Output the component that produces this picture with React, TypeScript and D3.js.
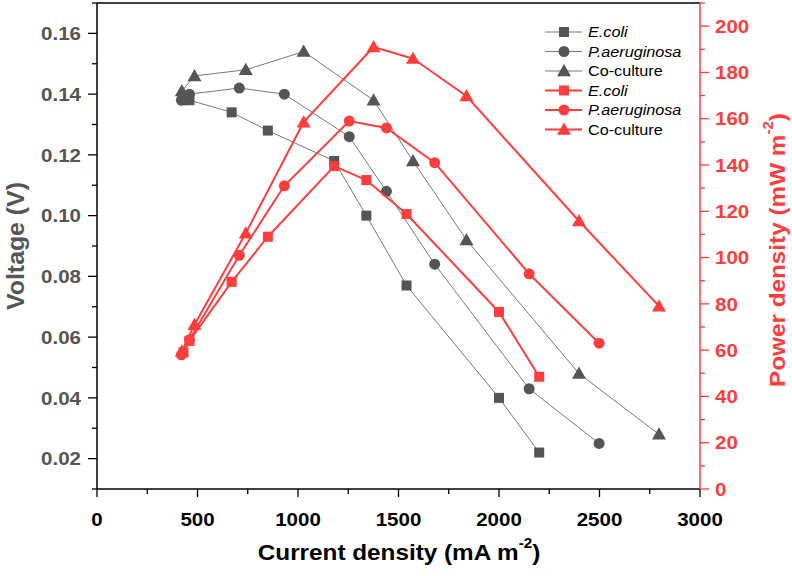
import React from "react";
import * as d3 from "d3";

const ecoliI = [430, 460, 670, 850, 1180, 1340, 1540, 2000, 2200];
const ecoliV = [0.138, 0.138, 0.134, 0.128, 0.118, 0.1, 0.077, 0.04, 0.022];
const ecoliP = [59, 64, 89.5, 109, 139.5, 133.5, 118.8, 76.5, 48.5];

const paerI = [420, 460, 708, 932, 1255, 1440, 1680, 2150, 2498];
const paerV = [0.138, 0.14, 0.142, 0.14, 0.126, 0.108, 0.084, 0.043, 0.025];
const paerP = [58, 64.5, 101, 131, 159, 156, 141, 93, 63];

const coI = [422, 485, 740, 1028, 1376, 1572, 1838, 2398, 2796];
const coV = [0.141, 0.146, 0.148, 0.154, 0.138, 0.118, 0.092, 0.048, 0.028];
const coP = [59.5, 71, 110.5, 158.5, 191, 186, 169.8, 115.8, 79];

const seriesNames = ["E.coli", "P.aeruginosa", "Co-culture"];
const seriesItalic = [true, true, false];
const seriesShapes = ["square", "circle", "triangle"];

const xTicks = [0, 500, 1000, 1500, 2000, 2500, 3000];
const yTicks = [0.02, 0.04, 0.06, 0.08, 0.1, 0.12, 0.14, 0.16];
const y2Ticks = [0, 20, 40, 60, 80, 100, 120, 140, 160, 180, 200];

const RED = "#ff3d3d";
const GRAYM = "#555555";
const GRAYL = "#6e7a82";
const FONT = "'Liberation Sans', Arial, sans-serif";
const SX = 1.08;

const L = 97, R = 700, T = 3, B = 489;

function Marker({ shape, x, y, fill, s = 1 }: any) {
  if (shape === "square") {
    const h = 5 * s;
    return <rect x={x - h} y={y - h} width={2 * h} height={2 * h} fill={fill} />;
  }
  if (shape === "circle") {
    return <circle cx={x} cy={y} r={5.5 * s} fill={fill} />;
  }
  const a = 7 * s;
  const pts = [
    [x, y - a * 1.0],
    [x + a, y + a * 0.75],
    [x - a, y + a * 0.75],
  ];
  return <polygon points={pts.map((p) => p.join(",")).join(" ")} fill={fill} />;
}

function T2({ x, y, children, size, fill, anchor = "middle", weight = "bold", italic = false, rotate = 0 }: any) {
  return (
    <text
      transform={`translate(${x},${y}) rotate(${rotate}) scale(${SX},1)`}
      fontFamily={FONT}
      fontSize={size}
      fontWeight={weight}
      fontStyle={italic ? "italic" : "normal"}
      fill={fill}
      textAnchor={anchor}
      dominantBaseline="central"
    >
      {children}
    </text>
  );
}

export default function App() {
  const x = d3.scaleLinear().domain([0, 3000]).range([L, R]);
  const y = d3.scaleLinear().domain([0.01, 0.17]).range([B, T]);
  const y2 = d3.scaleLinear().domain([0, 210]).range([B, T]);

  const grayData = [
    [ecoliI, ecoliV],
    [paerI, paerV],
    [coI, coV],
  ];
  const redData = [
    [ecoliI, ecoliP],
    [paerI, paerP],
    [coI, coP],
  ];

  const lineV = d3.line<[number, number]>().x((d) => x(d[0])).y((d) => y(d[1]));
  const lineP = d3.line<[number, number]>().x((d) => x(d[0])).y((d) => y2(d[1]));

  const xMinor = d3.range(0, 3001, 250);
  const yMinor = d3.range(0.01, 0.1701, 0.01);
  const y2Minor = d3.range(0, 211, 10);

  const legendRows = [32, 51.5, 71, 90.5, 110, 129.5];

  return (
    <svg width={792} height={576} style={{ position: "absolute", left: 0, top: 0, background: "#fff" }}>
      <rect x={0} y={0} width={792} height={576} fill="#fff" />
      {/* frame */}
      <line x1={L} y1={T} x2={R} y2={T} stroke="#000" strokeWidth={1.5} />
      <line x1={L} y1={B} x2={R} y2={B} stroke="#000" strokeWidth={1.5} />
      <line x1={L} y1={T} x2={L} y2={B} stroke="#000" strokeWidth={1.5} />
      <line x1={R} y1={T} x2={R} y2={B} stroke={RED} strokeWidth={1.5} />

      {/* bottom axis ticks */}
      {xMinor.map((v) => {
        const major = v % 500 === 0;
        return <line key={"xm" + v} x1={x(v)} x2={x(v)} y1={B} y2={B + (major ? 8 : 5)} stroke="#000" strokeWidth={1.3} />;
      })}
      {xTicks.map((v) => (
        <T2 key={"xt" + v} x={x(v)} y={519} size={19} fill="#000">
          {v}
        </T2>
      ))}

      {/* left axis ticks */}
      {yMinor.map((v, i) => {
        const major = i % 2 === 1;
        return <line key={"ym" + i} x1={L} x2={L - (major ? 9 : 5)} y1={y(v)} y2={y(v)} stroke="#000" strokeWidth={1.3} />;
      })}
      {yTicks.map((v) => (
        <T2 key={"yt" + v} x={81} y={y(v)} size={19} fill={GRAYM} anchor="end">
          {v.toFixed(2)}
        </T2>
      ))}

      {/* right axis ticks */}
      {y2Minor.map((v) => {
        const major = v % 20 === 0;
        return <line key={"y2m" + v} x1={R} x2={R + (major ? 9 : 5)} y1={y2(v)} y2={y2(v)} stroke={RED} strokeWidth={1.3} />;
      })}
      {y2Ticks.map((v) => (
        <T2 key={"y2t" + v} x={715} y={y2(v)} size={19} fill={RED} anchor="start">
          {v}
        </T2>
      ))}

      {/* axis titles */}
      <T2 x={399} y={552} size={22.5} fill="#000">
        Current density (mA m<tspan dy={-9} fontSize={14}>-2</tspan><tspan dy={9}>)</tspan>
      </T2>
      <T2 x={16} y={246} size={23} fill={GRAYM} rotate={-90}>
        Voltage (V)
      </T2>
      <T2 x={777} y={250} size={22.5} fill={RED} rotate={-90}>
        Power density (mW m<tspan dy={-9} fontSize={14}>-2</tspan><tspan dy={9}>)</tspan>
      </T2>

      {/* gray voltage series */}
      {grayData.map((s, si) => {
        const pts = s[0].map((v, i) => [v, s[1][i]] as [number, number]);
        return (
          <g key={"g" + si}>
            <path d={lineV(pts) || ""} fill="none" stroke={GRAYL} strokeWidth={1} />
            {pts.map((p, i) => (
              <Marker key={i} shape={seriesShapes[si]} x={x(p[0])} y={y(p[1])} fill={GRAYM} />
            ))}
          </g>
        );
      })}

      {/* red power series */}
      {redData.map((s, si) => {
        const pts = s[0].map((v, i) => [v, s[1][i]] as [number, number]);
        return (
          <g key={"r" + si}>
            <path d={lineP(pts) || ""} fill="none" stroke={RED} strokeWidth={2} />
            {pts.map((p, i) => (
              <Marker key={i} shape={seriesShapes[si]} x={x(p[0])} y={y2(p[1])} fill={RED} />
            ))}
          </g>
        );
      })}

      {/* legend */}
      {legendRows.map((ly, i) => {
        const si = i % 3;
        const red = i >= 3;
        return (
          <g key={"lg" + i}>
            <line x1={545} x2={582} y1={ly} y2={ly} stroke={red ? RED : GRAYL} strokeWidth={red ? 2 : 1} />
            <Marker shape={seriesShapes[si]} x={564} y={ly} fill={red ? RED : GRAYM} />
            <T2 x={588} y={ly} size={15} fill="#000" anchor="start" weight="normal" italic={seriesItalic[si]}>
              {seriesNames[si]}
            </T2>
          </g>
        );
      })}
    </svg>
  );
}
